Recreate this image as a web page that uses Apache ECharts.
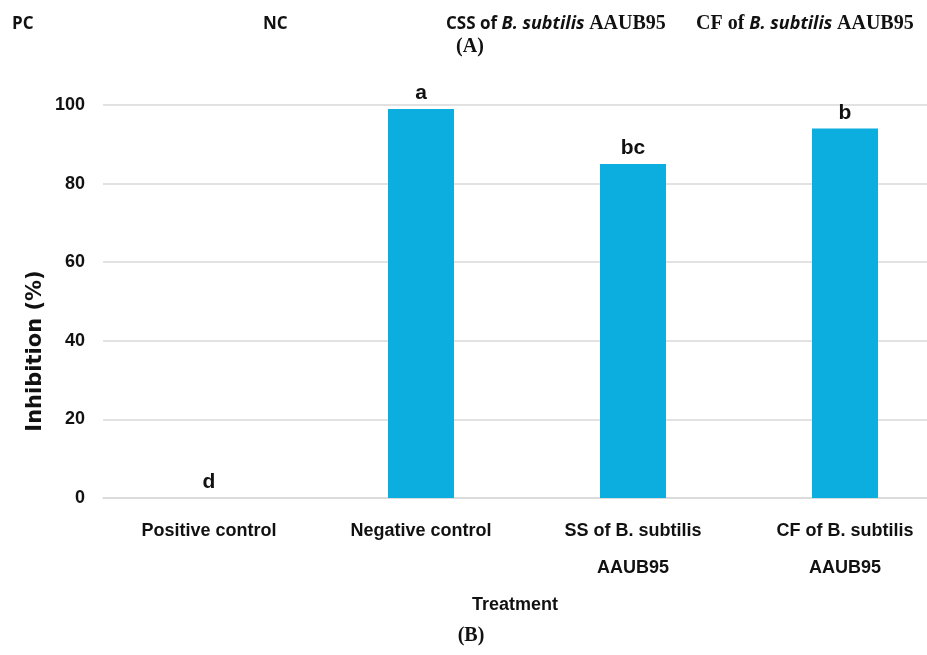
<!DOCTYPE html>
<html><head><meta charset="utf-8">
<script src="https://cdn.jsdelivr.net/npm/echarts@6/dist/echarts.min.js"></script>
<style>html,body{margin:0;padding:0;background:#fff;overflow:hidden;width:927px;height:655px}#c{width:951px;height:655px}</style>
</head><body><div id="c"></div>
<script>
const categories = ['Positive control', 'Negative control', 'SS of B. subtilis\nAAUB95', 'CF of B. subtilis\nAAUB95'];
const inhibition = [0, 99, 85, 94];
const letters = ['d', 'a', 'bc', 'b'];
const yTicks = [0, 20, 40, 60, 80, 100];

const lab = '"Liberation Sans", Arial, sans-serif';
const sansT = '"Open Sans", "Noto Sans", sans-serif';
const serifT = '"Liberation Serif", serif';
const chart = echarts.init(document.getElementById('c'), null, {renderer: 'canvas'});
chart.setOption({
  backgroundColor: '#fff',
  animation: false,
  grid: {left: 103, top: 105, right: 0, bottom: 157, containLabel: false},
  xAxis: {
    type: 'category', data: categories,
    axisLine: {lineStyle: {color: '#d9d9d9', width: 1.5}},
    axisTick: {show: false},
    axisLabel: {interval: 0, margin: 15, fontFamily: lab, fontWeight: 'bold', fontSize: 18, color: '#111', lineHeight: 37}
  },
  yAxis: {
    type: 'value', min: 0, max: 100, interval: 20,
    axisLine: {show: false}, axisTick: {show: false},
    splitLine: {lineStyle: {color: '#d9d9d9', width: 1.5}},
    axisLabel: {margin: 18, fontFamily: lab, fontWeight: 'bold', fontSize: 18, color: '#111',
      formatter: v => yTicks.includes(v) ? String(v) : ''}
  },
  series: [{
    type: 'bar', data: inhibition, barWidth: 66,
    itemStyle: {color: '#0BAEDE'},
    label: {show: true, position: 'top', distance: 5, fontFamily: lab, fontWeight: 'bold', fontSize: 21, color: '#111',
      formatter: p => letters[p.dataIndex]}
  }],
  graphic: [
    {type: 'text', x: 36, y: 351, rotation: Math.PI / 2, style: {text: 'Inhibition (%)', font: 'bold 21px "DejaVu Sans", sans-serif', fill: '#111', align: 'center', verticalAlign: 'middle'}},
    {type: 'text', x: 515, y: 605, style: {text: 'Treatment', font: 'bold 18px ' + lab, fill: '#111', align: 'center', verticalAlign: 'middle'}},
    {type: 'text', x: 12, y: 24, style: {text: 'PC', font: 'bold 17px ' + sansT, fill: '#111', verticalAlign: 'middle'}},
    {type: 'text', x: 263, y: 24, style: {text: 'NC', font: 'bold 17px ' + sansT, fill: '#111', verticalAlign: 'middle'}},
    {type: 'text', x: 446, y: 24, style: {
      text: '{a|CSS of }{i|B. subtilis }{s|AAUB95}', verticalAlign: 'middle',
      rich: {
        a: {fontFamily: sansT, fontWeight: 'bold', fontSize: 17, fill: '#111'},
        i: {fontFamily: sansT, fontWeight: 'bold', fontStyle: 'italic', fontSize: 18, fill: '#111'},
        s: {fontFamily: serifT, fontWeight: 'bold', fontSize: 20, fill: '#111'}
      }}},
    {type: 'text', x: 696, y: 24, style: {
      text: '{s|CF of }{i|B. subtilis }{s|AAUB95}', verticalAlign: 'middle',
      rich: {
        i: {fontFamily: sansT, fontWeight: 'bold', fontStyle: 'italic', fontSize: 18, fill: '#111'},
        s: {fontFamily: serifT, fontWeight: 'bold', fontSize: 20, fill: '#111'}
      }}},
    {type: 'text', x: 470, y: 47, style: {text: '(A)', font: 'bold 20px ' + serifT, fill: '#111', align: 'center', verticalAlign: 'middle'}},
    {type: 'text', x: 471, y: 636, style: {text: '(B)', font: 'bold 20px ' + serifT, fill: '#111', align: 'center', verticalAlign: 'middle'}}
  ]
});
</script></body></html>
